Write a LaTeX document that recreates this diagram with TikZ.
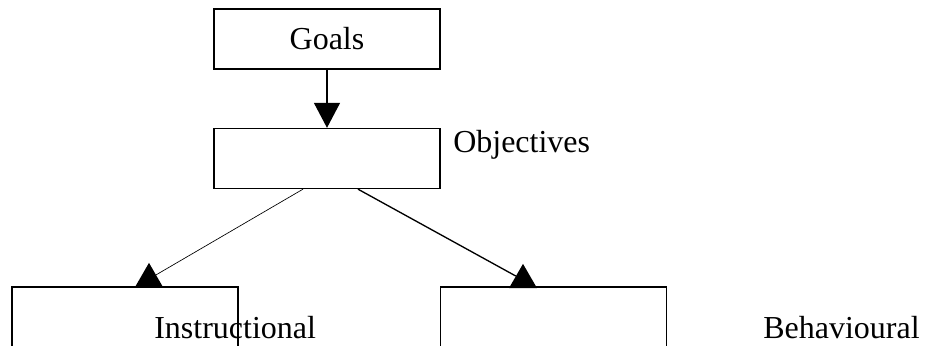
\documentclass[tikz,border=0pt]{standalone}
\usepackage{fontspec}
\setmainfont{Liberation Serif}
\usetikzlibrary{arrows.meta,shapes.geometric,positioning}

\begin{document}
\begin{tikzpicture}[x=0.75pt, y=-0.75pt,
		box/.style={draw, line width=1pt, minimum width=169.5pt, minimum height=45pt, inner sep=0pt},
		lbl/.style={anchor=base west, inner sep=0pt, font=\fontsize{24}{28}\selectfont},
		headtri/.style={regular polygon, regular polygon sides=3, minimum size=24.2pt, fill=black, inner sep=0pt, outer sep=0pt}]
		\clip (0,0) rectangle (925,346);
		\node (goals) [box, font=\fontsize{24}{28}\selectfont] at (327,39) {Goals};
		\node (obj) [box] at (327,158.5) {};
		\node (instr) [box] at (125,317) {};
		\node (behav) [box] at (553.5,317) {};
		\node (objlbl) [lbl] at (453,152) {Objectives};
		\node (instrlbl) [lbl] at (154,338) {Instructional};
		\node (behavlbl) [lbl] at (763,338) {Behavioural};
		\node (tipl) [headtri] at (149,279) {};
		\node (tipr) [headtri] at (523,280) {};
		\draw [line width=1pt, -{Triangle[width=19.5pt, length=18.75pt]}] (goals.south) -- (obj.north);
		\draw [line width=0.5pt] ([xshift=-18pt]obj.south) -- (tipl);
		\draw [line width=1pt] ([xshift=23.25pt]obj.south) -- (tipr);
	\end{tikzpicture}
\end{document}
